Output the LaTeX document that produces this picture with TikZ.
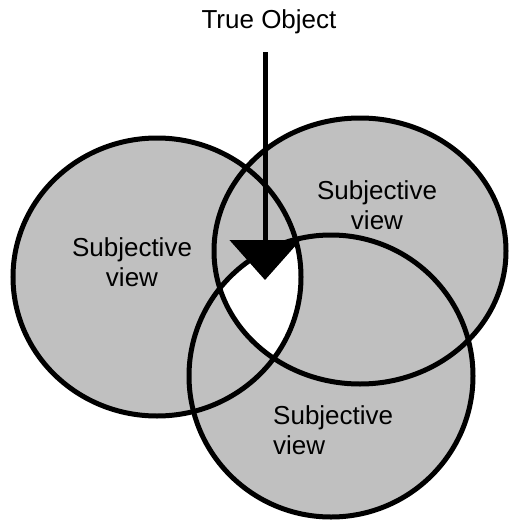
\documentclass[tikz,border=0pt]{standalone}
\usepackage{fontspec}
\setmainfont{Liberation Sans}
\usetikzlibrary{arrows.meta}
\definecolor{viewgray}{HTML}{C0C0C0}
\tikzset{
  outline/.style={draw=black, line width=5pt},
  lbl/.style={font=\fontsize{26}{30}\selectfont, inner sep=0pt},
  pointer/.style={line width=5pt, -{Triangle[width=70pt,length=40pt]}}
}
\begin{document}
\begin{tikzpicture}[x=1pt,y=-1pt]
\useasboundingbox (0,0) rectangle (509,522);
% fills
\fill[viewgray] (157,277) ellipse [x radius=144pt, y radius=139pt];
\fill[viewgray] (360,251) ellipse [x radius=146pt, y radius=133pt];
\fill[viewgray] (331,376) ellipse [x radius=142pt, y radius=141pt];
\begin{scope}
  \clip (157,277) ellipse [x radius=144pt, y radius=139pt];
  \clip (360,251) ellipse [x radius=146pt, y radius=133pt];
  \fill[white] (331,376) ellipse [x radius=142pt, y radius=141pt];
\end{scope}
% outlines
\draw[outline] (157,277) ellipse [x radius=144pt, y radius=139pt];
\draw[outline] (360,251) ellipse [x radius=146pt, y radius=133pt];
\draw[outline] (331,376) ellipse [x radius=142pt, y radius=141pt];
% labels
\node[lbl] (true) at (269,22) {True Object};
\coordinate (start) at (265,52);
\coordinate (tip) at (265,280);
\draw[pointer] (start) -- (tip);
\node[lbl, align=center] (vleft) at (132,262) {Subjective\\view};
\node[lbl, align=center] (vright) at (377,205) {Subjective\\view};
\node[lbl, align=left, anchor=west] (vbottom) at (273,430) {Subjective\\view};
\end{tikzpicture}
\end{document}
